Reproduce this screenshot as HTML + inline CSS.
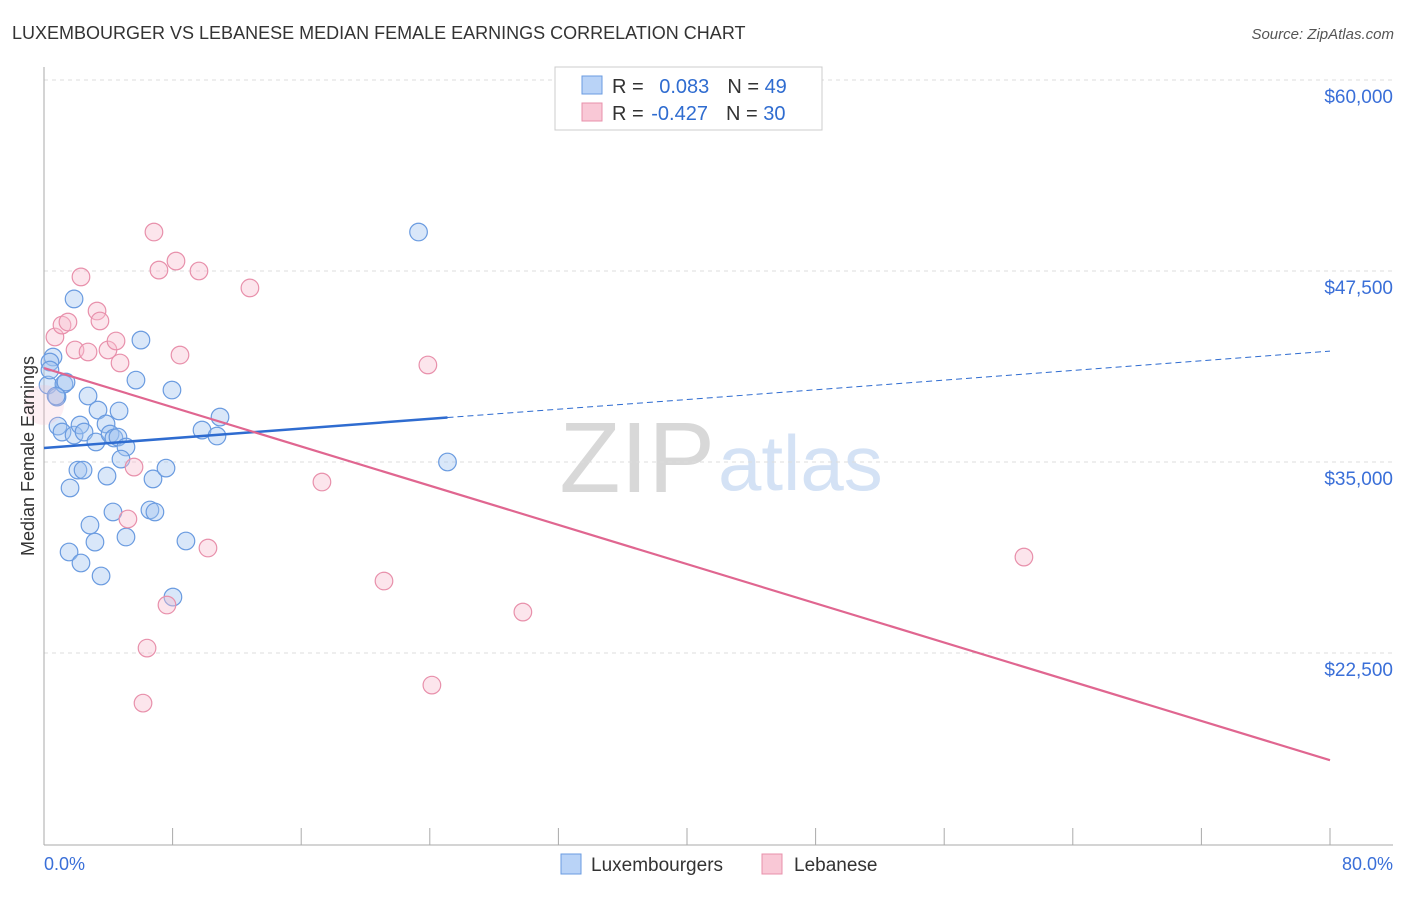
<!DOCTYPE html>
<html><head><meta charset="utf-8"><style>
body{margin:0;background:#fff;font-family:"Liberation Sans",sans-serif;}
svg text{font-family:"Liberation Sans",sans-serif;}
</style></head><body>
<svg id="c" width="1406" height="892">
<text x="12" y="39" font-size="18" fill="#333">LUXEMBOURGER VS LEBANESE MEDIAN FEMALE EARNINGS CORRELATION CHART</text>
<text x="1394" y="39" font-size="15" fill="#555" font-style="italic" text-anchor="end">Source: ZipAtlas.com</text>
<text x="715" y="492" font-size="100" fill="#d8d8d8" text-anchor="end" font-family="Liberation Serif">ZIP</text>
<text x="718" y="490" font-size="78" fill="#d4e2f5">atlas</text>
<g id="grid"></g><g id="marks"></g>
<text transform="translate(34,456) rotate(-90)" font-size="18" fill="#333" text-anchor="middle">Median Female Earnings</text>
<text x="44" y="870" font-size="18" fill="#3a6fd8">0.0%</text>
<text x="1393" y="870" font-size="18" fill="#3a6fd8" text-anchor="end">80.0%</text>
<g>
<rect x="555" y="67" width="267" height="63" fill="#fff" stroke="#ccc"/>
<rect x="582" y="76" width="20" height="18" fill="#b9d3f7" stroke="#6a9be0"/>
<rect x="582" y="103" width="20" height="18" fill="#f9c8d6" stroke="#e890ab"/>
<text x="612" y="93" font-size="20" fill="#333">R = <tspan fill="#2f6cd0" dx="10">0.083</tspan><tspan dx="18">N = </tspan><tspan fill="#2f6cd0">49</tspan></text>
<text x="612" y="120" font-size="20" fill="#333">R = <tspan fill="#2f6cd0" dx="2">-0.427</tspan><tspan dx="18">N = </tspan><tspan fill="#2f6cd0">30</tspan></text>
</g>
<g>
<rect x="561" y="854" width="20" height="20" fill="#b9d3f7" stroke="#6a9be0"/>
<text x="591" y="871" font-size="19" fill="#333">Luxembourgers</text>
<rect x="762" y="854" width="20" height="20" fill="#f9c8d6" stroke="#e890ab"/>
<text x="794" y="871" font-size="19" fill="#333">Lebanese</text>
</g>
</svg>
<script>
const blueX=[0.56,0.37,0.25,0.81,1.24,1.37,1.87,2.74,0.87,1.12,1.87,2.24,2.49,3.36,3.23,3.86,4.11,4.35,4.60,4.67,5.10,4.79,6.03,5.72,7.96,10.95,9.83,10.76,2.11,2.43,3.92,1.62,6.78,7.59,4.29,2.86,6.59,6.90,3.17,5.10,8.83,1.56,2.30,3.55,8.02,23.3,25.1,0.37,0.75];
const blueY=[41870,41540,40040,39250,40100,40230,45670,39320,37350,36960,36760,37420,36960,38400,36310,37490,36830,36570,36630,38340,35980,35190,42980,40360,39710,37940,37090,36700,34470,34470,34080,33300,33890,34600,31730,30870,31860,31730,29760,30090,29830,29110,28390,27540,26160,50050,35000,41020,39320];
const pinkX=[0,0.68,1.12,1.49,2.30,1.93,2.74,3.30,3.48,3.98,4.48,4.73,6.84,7.15,8.21,9.64,8.46,12.81,23.88,5.60,5.22,17.29,10.20,21.15,7.65,29.79,6.41,24.13,6.16,60.96];
const pinkY=[38730,43180,43960,44160,47110,42330,42200,44880,44230,42330,42920,41480,50050,47560,48150,47500,42000,46390,41350,34670,31270,33690,29370,27210,25640,25180,22820,20400,19220,28780];
const yTicks=[60000,47500,35000,22500];
const yTickLabels=["$60,000","$47,500","$35,000","$22,500"];
const blueFit=[35920,79.25]; // intercept, slope per %
const pinkFit=[41150,-320.8];
const blueFitEnd=25.1;
const X=v=>44+v/80*1286, Y=v=>80+(60000-v)/12500*191;
const NS="http://www.w3.org/2000/svg";
function mk(p,t,a){const e=document.createElementNS(NS,t);for(const k in a)e.setAttribute(k,a[k]);p.appendChild(e);return e;}
const g=document.getElementById('grid'), m=document.getElementById('marks');
yTicks.forEach((t,i)=>{
 const l=mk(g,'line',{x1:44,x2:1393,y1:Y(t),y2:Y(t),stroke:'#ddd','stroke-dasharray':'4,4'});
 
 
 const tx=mk(g,'text',{x:1393,y:Y(t)+23,'font-size':19,fill:'#3a6fd8','text-anchor':'end'});
 tx.textContent=yTickLabels[i];
 
 
});
const ax=mk(g,'line',{x1:44,x2:44,y1:67,y2:845,stroke:'#aaa'});


const bx=mk(g,'line',{x1:44,x2:1393,y1:845,y2:845,stroke:'#aaa'});


for(let i=0;i<=10;i++){const t=mk(g,'line',{x1:X(i*8),x2:X(i*8),y1:828,y2:845,stroke:'#aaa'});
 
 }
blueX.forEach((x,i)=>{const c=mk(m,'circle',{cx:X(x),cy:Y(blueY[i]),r:8.8,fill:'rgba(160,195,240,0.4)',stroke:'#6a9be0','stroke-width':1.2});
 
 });
pinkX.forEach((x,i)=>{const c=mk(m,'circle',{cx:X(x),cy:Y(pinkY[i]),r:i===0?20:8.8,fill:i===0?'rgba(248,190,208,0.25)':'rgba(248,190,208,0.4)',stroke:i===0?'none':'#e890ab','stroke-width':1.2});
 
 });
const f=(p,x)=>p[0]+p[1]*x;
let l1=mk(m,'line',{x1:X(0),y1:Y(f(blueFit,0)),x2:X(blueFitEnd),y2:Y(f(blueFit,blueFitEnd)),stroke:'#2f6cd0','stroke-width':2.5});


let l2=mk(m,'line',{x1:X(blueFitEnd),y1:Y(f(blueFit,blueFitEnd)),x2:X(80),y2:Y(f(blueFit,80)),stroke:'#2f6cd0','stroke-width':1,'stroke-dasharray':'6,4'});


let l3=mk(m,'line',{x1:X(0),y1:Y(f(pinkFit,0)),x2:X(80),y2:Y(f(pinkFit,80)),stroke:'#e06690','stroke-width':2.2});


</script>
</body></html>
